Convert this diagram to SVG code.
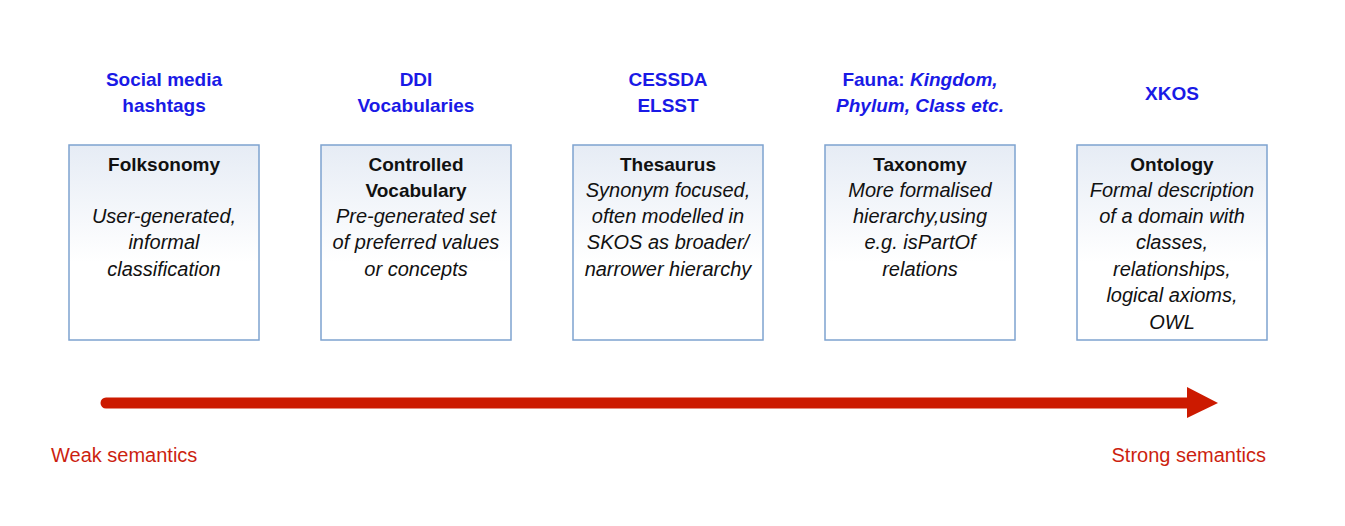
<svg xmlns="http://www.w3.org/2000/svg" width="1345" height="526" viewBox="0 0 1345 526">
<style>
.top{font-family:"Liberation Sans",Arial,sans-serif;font-size:19px;font-weight:bold;fill:#1a1ae6;text-anchor:middle}
.ttl{font-family:"Liberation Sans",Arial,sans-serif;font-size:19px;font-weight:bold;fill:#111;text-anchor:middle}
.body{font-family:"Liberation Sans",Arial,sans-serif;font-size:20px;font-style:italic;fill:#111;text-anchor:middle}
.box{fill:url(#g);stroke:#7ea3cf;stroke-width:1.5}
.sem{font-family:"Liberation Sans",Arial,sans-serif;font-size:20px;fill:#cc1f10}
</style>
<defs>
<linearGradient id="g" x1="0" y1="0" x2="0" y2="1">
<stop offset="0" stop-color="#e6ecf5"/>
<stop offset="0.6" stop-color="#ffffff"/>
<stop offset="1" stop-color="#ffffff"/>
</linearGradient>
</defs>
<rect width="1345" height="526" fill="#ffffff"/>
<g id="n1">
<text class="top" x="164" y="86">Social media</text>
<text class="top" x="164" y="112">hashtags</text>
<rect class="box" x="69" y="145" width="190" height="195"/>
<text class="ttl" x="164" y="171">Folksonomy</text>
<text class="body" x="164" y="223">User-generated,</text>
<text class="body" x="164" y="249">informal</text>
<text class="body" x="164" y="276">classification</text>
</g>
<g id="n2">
<text class="top" x="416" y="86">DDI</text>
<text class="top" x="416" y="112">Vocabularies</text>
<rect class="box" x="321" y="145" width="190" height="195"/>
<text class="ttl" x="416" y="171">Controlled</text>
<text class="ttl" x="416" y="197">Vocabulary</text>
<text class="body" x="416" y="223">Pre-generated set</text>
<text class="body" x="416" y="249">of preferred values</text>
<text class="body" x="416" y="276">or concepts</text>
</g>
<g id="n3">
<text class="top" x="668" y="86">CESSDA</text>
<text class="top" x="668" y="112">ELSST</text>
<rect class="box" x="573" y="145" width="190" height="195"/>
<text class="ttl" x="668" y="171">Thesaurus</text>
<text class="body" x="668" y="197">Synonym focused,</text>
<text class="body" x="668" y="223">often modelled in</text>
<text class="body" x="668" y="249">SKOS as broader/</text>
<text class="body" x="668" y="276">narrower hierarchy</text>
</g>
<g id="n4">
<text class="top" x="920" y="86">Fauna: <tspan font-style="italic">Kingdom,</tspan></text>
<text class="top" x="920" y="112" font-style="italic">Phylum, Class etc.</text>
<rect class="box" x="825" y="145" width="190" height="195"/>
<text class="ttl" x="920" y="171">Taxonomy</text>
<text class="body" x="920" y="197">More formalised</text>
<text class="body" x="920" y="223">hierarchy,using</text>
<text class="body" x="920" y="249">e.g. isPartOf</text>
<text class="body" x="920" y="276">relations</text>
</g>
<g id="n5">
<text class="top" x="1172" y="100">XKOS</text>
<rect class="box" x="1077" y="145" width="190" height="195"/>
<text class="ttl" x="1172" y="171">Ontology</text>
<text class="body" x="1172" y="197">Formal description</text>
<text class="body" x="1172" y="223">of a domain with</text>
<text class="body" x="1172" y="249">classes,</text>
<text class="body" x="1172" y="276">relationships,</text>
<text class="body" x="1172" y="302">logical axioms,</text>
<text class="body" x="1172" y="329">OWL</text>
</g>
<g id="connectors">
<line x1="106" y1="403" x2="1190" y2="403" stroke="#cc1a00" stroke-width="11" stroke-linecap="round"/>
<polygon points="1187,387 1218,403 1187,418" fill="#cc1a00"/>
</g>
<g id="labels">
<text class="sem" x="51" y="462">Weak semantics</text>
<text class="sem" x="1266" y="462" text-anchor="end">Strong semantics</text>
</g>
</svg>
